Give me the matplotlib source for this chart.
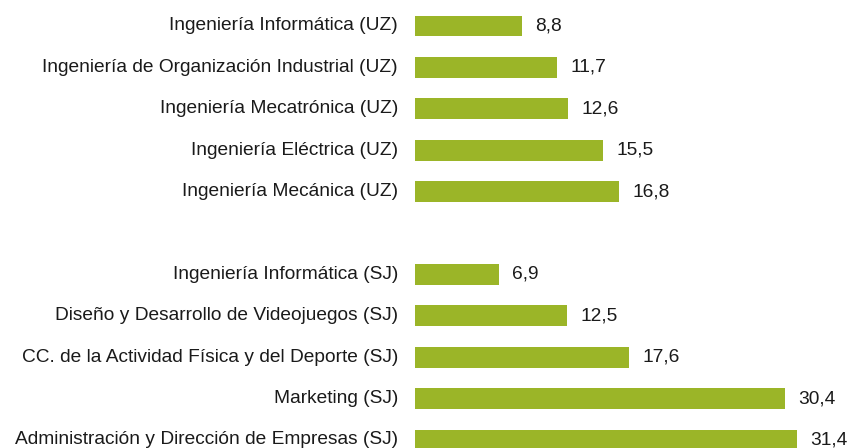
import matplotlib
matplotlib.use("Agg")
import matplotlib.pyplot as plt

categories = [
    "Ingeniería Informática (UZ)",
    "Ingeniería de Organización Industrial (UZ)",
    "Ingeniería Mecatrónica (UZ)",
    "Ingeniería Eléctrica (UZ)",
    "Ingeniería Mecánica (UZ)",
    "",
    "Ingeniería Informática (SJ)",
    "Diseño y Desarrollo de Videojuegos (SJ)",
    "CC. de la Actividad Física y del Deporte (SJ)",
    "Marketing (SJ)",
    "Administración y Dirección de Empresas (SJ)",
]
values = [8.8, 11.7, 12.6, 15.5, 16.8, None, 6.9, 12.5, 17.6, 30.4, 31.4]

plt.rcParams["font.family"] = ["Liberation Sans", "DejaVu Sans"]

fig = plt.figure(figsize=(8.47, 4.48), dpi=100)
ax = fig.add_axes([415 / 847, 0, 1 - 415 / 847, 1])

color = "#9BB528"
for i, (cat, v) in enumerate(zip(categories, values)):
    if v is None:
        continue
    ax.barh(i, v, height=0.5, color=color)
    ax.text(v + 1.1, i, f"{v:.1f}".replace(".", ","), va="center", ha="left",
            fontsize=13.8, color="#1a1a1a")
    ax.text(-1.4, i, cat, va="center", ha="right", fontsize=13.8,
            color="#1a1a1a", clip_on=False)

ax.set_xlim(0, (847 - 415) / 12.16)
ax.set_ylim((448 - 26) / 41.4, -26 / 41.4)
ax.axis("off")

fig.savefig("out.png", dpi=100)
